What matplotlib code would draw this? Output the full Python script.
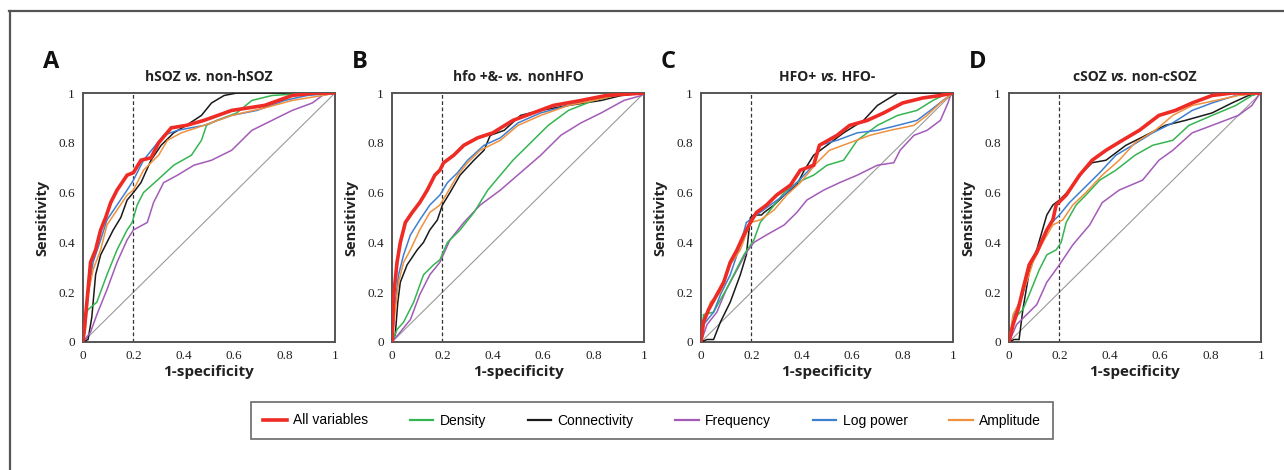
import matplotlib
matplotlib.use("Agg")
import matplotlib.pyplot as plt
from matplotlib.lines import Line2D
from matplotlib.offsetbox import TextArea, HPacker, AnchoredOffsetbox

# ---------------- data ----------------
series_names = ["All variables", "Density", "Connectivity", "Frequency", "Log power", "Amplitude"]
series_colors = ["#ee2b24", "#35b552", "#1a1a1a", "#a35bb8", "#3f7fd0", "#f0913f"]
panel_letters = ["A", "B", "C", "D"]
panel_titles = [("hSOZ ", "vs.", " non-hSOZ"),
                ("hfo +&- ", "vs.", " nonHFO"),
                ("HFO+ ", "vs.", " HFO-"),
                ("cSOZ ", "vs.", " non-cSOZ")]
tick_values = [0, 0.2, 0.4, 0.6, 0.8, 1]
tick_labels = ["0", "0.2", "0.4", "0.6", "0.8", "1"]
cutoff_fpr = 0.2

# Panel A
A_all_x = [0, 0.01, 0.03, 0.05, 0.07, 0.09, 0.11, 0.135, 0.175, 0.2, 0.23, 0.27, 0.3, 0.35, 0.41, 0.48, 0.59, 0.72, 0.83, 0.92, 1]
A_all_y = [0, 0.1, 0.32, 0.37, 0.45, 0.5, 0.56, 0.61, 0.67, 0.68, 0.73, 0.74, 0.8, 0.86, 0.87, 0.89, 0.93, 0.95, 0.99, 1.0, 1]
A_den_x = [0, 0.01, 0.02, 0.055, 0.095, 0.135, 0.175, 0.195, 0.215, 0.24, 0.295, 0.36, 0.43, 0.47, 0.49, 0.53, 0.61, 0.67, 0.75, 0.91, 1]
A_den_y = [0, 0.11, 0.13, 0.16, 0.27, 0.37, 0.45, 0.48, 0.55, 0.6, 0.65, 0.71, 0.75, 0.81, 0.87, 0.89, 0.92, 0.97, 0.99, 1.0, 1]
A_con_x = [0, 0.02, 0.035, 0.05, 0.07, 0.095, 0.12, 0.15, 0.175, 0.2, 0.23, 0.27, 0.31, 0.36, 0.41, 0.47, 0.51, 0.56, 0.61, 1]
A_con_y = [0, 0.01, 0.1, 0.27, 0.35, 0.4, 0.45, 0.5, 0.57, 0.6, 0.64, 0.73, 0.79, 0.84, 0.87, 0.91, 0.96, 0.99, 1.0, 1]
A_fre_x = [0, 0.03, 0.055, 0.095, 0.135, 0.175, 0.2, 0.255, 0.28, 0.32, 0.375, 0.44, 0.51, 0.55, 0.59, 0.63, 0.67, 0.75, 0.83, 0.91, 0.95, 1]
A_fre_y = [0, 0.04, 0.11, 0.21, 0.32, 0.41, 0.45, 0.48, 0.56, 0.64, 0.67, 0.71, 0.73, 0.75, 0.77, 0.81, 0.85, 0.89, 0.93, 0.96, 0.99, 1]
A_log_x = [0, 0.005, 0.015, 0.04, 0.07, 0.095, 0.135, 0.175, 0.2, 0.24, 0.28, 0.32, 0.375, 0.48, 0.59, 0.69, 0.8, 0.89, 1]
A_log_y = [0, 0.05, 0.16, 0.32, 0.41, 0.49, 0.55, 0.61, 0.65, 0.73, 0.78, 0.83, 0.85, 0.87, 0.91, 0.93, 0.97, 0.99, 1]
A_amp_x = [0, 0.01, 0.02, 0.04, 0.07, 0.095, 0.135, 0.175, 0.2, 0.24, 0.3, 0.335, 0.39, 0.48, 0.59, 0.72, 0.83, 0.95, 1]
A_amp_y = [0, 0.05, 0.19, 0.29, 0.37, 0.47, 0.53, 0.59, 0.61, 0.69, 0.75, 0.81, 0.84, 0.87, 0.91, 0.94, 0.97, 0.99, 1]

# Panel B
B_all_x = [0, 0.007, 0.02, 0.033, 0.053, 0.08, 0.11, 0.14, 0.17, 0.19, 0.205, 0.245, 0.285, 0.34, 0.4, 0.48, 0.56, 0.64, 0.75, 0.85, 1]
B_all_y = [0, 0.19, 0.32, 0.4, 0.48, 0.52, 0.56, 0.61, 0.67, 0.69, 0.72, 0.75, 0.79, 0.82, 0.84, 0.89, 0.92, 0.95, 0.97, 0.99, 1]
B_den_x = [0, 0.02, 0.046, 0.086, 0.125, 0.165, 0.19, 0.22, 0.27, 0.325, 0.38, 0.43, 0.48, 0.54, 0.62, 0.7, 0.8, 0.93, 1]
B_den_y = [0, 0.05, 0.08, 0.16, 0.27, 0.31, 0.33, 0.4, 0.45, 0.52, 0.61, 0.67, 0.73, 0.79, 0.87, 0.93, 0.97, 1.0, 1]
B_con_x = [0, 0.013, 0.023, 0.033, 0.06, 0.1, 0.125, 0.15, 0.18, 0.2, 0.23, 0.27, 0.325, 0.365, 0.39, 0.445, 0.51, 0.59, 0.7, 0.83, 0.91, 1]
B_con_y = [0, 0.03, 0.16, 0.24, 0.31, 0.37, 0.4, 0.45, 0.49, 0.55, 0.6, 0.67, 0.73, 0.77, 0.83, 0.85, 0.91, 0.93, 0.95, 0.97, 0.99, 1]
B_fre_x = [0, 0.033, 0.073, 0.11, 0.15, 0.19, 0.23, 0.285, 0.35, 0.43, 0.51, 0.59, 0.67, 0.75, 0.83, 0.92, 0.99, 1]
B_fre_y = [0, 0.04, 0.09, 0.19, 0.27, 0.32, 0.41, 0.48, 0.55, 0.61, 0.68, 0.75, 0.83, 0.88, 0.92, 0.97, 0.99, 1]
B_log_x = [0, 0.013, 0.026, 0.046, 0.073, 0.11, 0.15, 0.19, 0.22, 0.26, 0.3, 0.365, 0.43, 0.5, 0.59, 0.7, 0.8, 0.92, 1]
B_log_y = [0, 0.16, 0.27, 0.35, 0.43, 0.49, 0.55, 0.59, 0.64, 0.68, 0.73, 0.79, 0.82, 0.88, 0.92, 0.95, 0.98, 1.0, 1]
B_amp_x = [0, 0.013, 0.026, 0.046, 0.073, 0.11, 0.15, 0.19, 0.22, 0.26, 0.3, 0.35, 0.43, 0.5, 0.59, 0.7, 0.8, 0.93, 1]
B_amp_y = [0, 0.13, 0.24, 0.32, 0.37, 0.45, 0.52, 0.55, 0.6, 0.67, 0.72, 0.77, 0.81, 0.87, 0.91, 0.95, 0.97, 1.0, 1]

# Panel C
C_all_x = [0, 0.01, 0.03, 0.063, 0.09, 0.116, 0.143, 0.17, 0.196, 0.22, 0.26, 0.3, 0.355, 0.394, 0.447, 0.47, 0.54, 0.59, 0.66, 0.725, 0.8, 0.88, 0.95, 1]
C_all_y = [0, 0.08, 0.13, 0.19, 0.24, 0.32, 0.37, 0.43, 0.48, 0.52, 0.55, 0.59, 0.63, 0.69, 0.71, 0.79, 0.83, 0.87, 0.89, 0.92, 0.96, 0.98, 0.99, 1]
C_den_x = [0, 0.01, 0.05, 0.077, 0.1, 0.13, 0.17, 0.21, 0.235, 0.275, 0.33, 0.38, 0.447, 0.5, 0.566, 0.62, 0.7, 0.78, 0.857, 0.92, 0.96, 1]
C_den_y = [0, 0.11, 0.12, 0.17, 0.21, 0.27, 0.35, 0.41, 0.48, 0.53, 0.6, 0.64, 0.67, 0.71, 0.73, 0.81, 0.87, 0.91, 0.93, 0.97, 0.99, 1]
C_con_x = [0, 0.024, 0.05, 0.077, 0.116, 0.156, 0.18, 0.196, 0.21, 0.24, 0.25, 0.29, 0.33, 0.38, 0.41, 0.447, 0.5, 0.566, 0.645, 0.7, 0.78, 1]
C_con_y = [0, 0.01, 0.01, 0.08, 0.16, 0.27, 0.35, 0.5, 0.51, 0.51, 0.52, 0.55, 0.59, 0.63, 0.69, 0.75, 0.79, 0.84, 0.89, 0.95, 1.0, 1]
C_fre_x = [0, 0.024, 0.063, 0.1, 0.143, 0.18, 0.21, 0.26, 0.33, 0.38, 0.42, 0.487, 0.55, 0.62, 0.7, 0.765, 0.79, 0.845, 0.897, 0.95, 0.98, 0.99, 1]
C_fre_y = [0, 0.07, 0.12, 0.21, 0.29, 0.36, 0.4, 0.43, 0.47, 0.52, 0.57, 0.61, 0.64, 0.67, 0.71, 0.72, 0.77, 0.83, 0.85, 0.89, 0.96, 0.99, 1]
C_log_x = [0, 0.01, 0.05, 0.077, 0.116, 0.156, 0.18, 0.22, 0.275, 0.33, 0.38, 0.447, 0.47, 0.54, 0.62, 0.7, 0.78, 0.857, 0.91, 0.96, 1]
C_log_y = [0, 0.07, 0.12, 0.19, 0.27, 0.39, 0.48, 0.51, 0.55, 0.59, 0.64, 0.71, 0.79, 0.81, 0.84, 0.85, 0.87, 0.89, 0.93, 0.97, 1]
C_amp_x = [0, 0.01, 0.037, 0.077, 0.116, 0.156, 0.196, 0.235, 0.29, 0.34, 0.394, 0.46, 0.51, 0.59, 0.67, 0.75, 0.845, 0.897, 0.95, 1]
C_amp_y = [0, 0.07, 0.16, 0.2, 0.31, 0.37, 0.48, 0.49, 0.53, 0.59, 0.64, 0.72, 0.77, 0.8, 0.83, 0.85, 0.87, 0.91, 0.96, 1]

# Panel D
D_all_x = [0, 0.016, 0.036, 0.055, 0.08, 0.11, 0.15, 0.174, 0.187, 0.227, 0.28, 0.33, 0.385, 0.45, 0.517, 0.595, 0.66, 0.727, 0.806, 0.885, 1]
D_all_y = [0, 0.07, 0.13, 0.21, 0.31, 0.36, 0.45, 0.49, 0.55, 0.59, 0.67, 0.73, 0.77, 0.81, 0.85, 0.91, 0.93, 0.96, 0.99, 1.0, 1]
D_den_x = [0, 0.016, 0.055, 0.08, 0.12, 0.15, 0.187, 0.207, 0.227, 0.266, 0.305, 0.36, 0.424, 0.5, 0.57, 0.65, 0.714, 0.806, 0.9, 0.964, 1]
D_den_y = [0, 0.09, 0.13, 0.19, 0.29, 0.35, 0.37, 0.4, 0.48, 0.55, 0.59, 0.65, 0.69, 0.75, 0.79, 0.81, 0.87, 0.91, 0.95, 0.99, 1]
D_con_x = [0, 0.02, 0.04, 0.055, 0.08, 0.11, 0.15, 0.174, 0.2, 0.24, 0.29, 0.33, 0.385, 0.464, 0.543, 0.62, 0.7, 0.806, 0.885, 0.95, 1]
D_con_y = [0, 0.01, 0.01, 0.13, 0.28, 0.37, 0.51, 0.55, 0.57, 0.61, 0.68, 0.72, 0.73, 0.79, 0.83, 0.87, 0.89, 0.92, 0.96, 0.99, 1]
D_fre_x = [0, 0.03, 0.07, 0.11, 0.15, 0.2, 0.253, 0.32, 0.37, 0.437, 0.53, 0.595, 0.65, 0.727, 0.806, 0.91, 0.964, 0.99, 1]
D_fre_y = [0, 0.07, 0.11, 0.15, 0.24, 0.31, 0.39, 0.47, 0.56, 0.61, 0.65, 0.73, 0.77, 0.84, 0.87, 0.91, 0.95, 0.99, 1]
D_log_x = [0, 0.02, 0.055, 0.08, 0.12, 0.16, 0.2, 0.24, 0.29, 0.36, 0.424, 0.49, 0.57, 0.65, 0.727, 0.806, 0.9, 1]
D_log_y = [0, 0.11, 0.19, 0.31, 0.39, 0.47, 0.51, 0.56, 0.61, 0.68, 0.75, 0.79, 0.84, 0.88, 0.93, 0.96, 0.99, 1]
D_amp_x = [0, 0.016, 0.042, 0.07, 0.095, 0.134, 0.174, 0.213, 0.253, 0.305, 0.37, 0.437, 0.5, 0.58, 0.65, 0.727, 0.82, 0.91, 1]
D_amp_y = [0, 0.11, 0.16, 0.24, 0.32, 0.4, 0.47, 0.49, 0.55, 0.6, 0.67, 0.73, 0.8, 0.85, 0.91, 0.95, 0.97, 0.99, 1]

panels = [
    [(A_all_x, A_all_y), (A_den_x, A_den_y), (A_con_x, A_con_y), (A_fre_x, A_fre_y), (A_log_x, A_log_y), (A_amp_x, A_amp_y)],
    [(B_all_x, B_all_y), (B_den_x, B_den_y), (B_con_x, B_con_y), (B_fre_x, B_fre_y), (B_log_x, B_log_y), (B_amp_x, B_amp_y)],
    [(C_all_x, C_all_y), (C_den_x, C_den_y), (C_con_x, C_con_y), (C_fre_x, C_fre_y), (C_log_x, C_log_y), (C_amp_x, C_amp_y)],
    [(D_all_x, D_all_y), (D_den_x, D_den_y), (D_con_x, D_con_y), (D_fre_x, D_fre_y), (D_log_x, D_log_y), (D_amp_x, D_amp_y)],
]

# ---------------- figure ----------------
W, H = 1284, 470
fig = plt.figure(figsize=(W / 100, H / 100), dpi=100)
fig.patch.set_facecolor("white")

sans_bold = ["Open Sans", "DejaVu Sans"]
serif = ["Liberation Serif", "DejaVu Serif"]
narrow = ["Liberation Sans Narrow", "Liberation Sans", "DejaVu Sans"]

axes_left_px = [83, 392, 701, 1009]
ax_w_px = 252
ax_top_px, ax_bot_px = 93, 342

# outer frame lines (top and left)
fig.add_artist(Line2D([9 / W, 1.0], [1 - 10.5 / H, 1 - 10.5 / H], color="#555555", lw=1.6))
fig.add_artist(Line2D([9.5 / W, 9.5 / W], [0, 1 - 10.5 / H], color="#555555", lw=1.6))

# plotting order: draw red last so it's on top
draw_order = [2, 3, 1, 4, 5, 0]

for p in range(4):
    ax = fig.add_axes([axes_left_px[p] / W, 1 - ax_bot_px / H, ax_w_px / W, (ax_bot_px - ax_top_px) / H])
    ax.set_xlim(0, 1)
    ax.set_ylim(0, 1)
    ax.plot([0, 1], [0, 1], color="#9a9a9a", lw=0.8, zorder=1)
    ax.axvline(cutoff_fpr, color="#333333", lw=0.9, ls=(0, (3, 2)), zorder=1)
    for i in draw_order:
        xs, ys = panels[p][i]
        lw = 2.6 if i == 0 else 1.1
        ax.plot(xs, ys, color=series_colors[i], lw=lw, zorder=5 if i == 0 else 3,
                solid_joinstyle="miter")
    for s in ax.spines.values():
        s.set_color("#555555")
        s.set_linewidth(1.4)
    ax.set_xticks(tick_values)
    ax.set_xticklabels(tick_labels)
    ax.set_yticks(tick_values)
    ax.set_yticklabels(tick_labels)
    ax.tick_params(length=0, pad=6, labelsize=9.5, colors="#222222")
    for t in ax.get_xticklabels() + ax.get_yticklabels():
        t.set_family(serif)
    ax.set_xlabel("1-specificity", fontsize=11, fontweight="bold", family=sans_bold, labelpad=2, color="#222222")
    ax.set_ylabel("Sensitivity", fontsize=10.5, fontweight="bold", family=sans_bold, labelpad=6, color="#222222")

    # title with italic "vs."
    a, b, c = panel_titles[p]
    tprops = dict(fontsize=10, fontweight="bold", family=sans_bold, color="#222222")
    ta = TextArea(a, textprops=tprops)
    tb = TextArea(b, textprops=dict(tprops, style="italic"))
    tc = TextArea(c, textprops=tprops)
    pack = HPacker(children=[ta, tb, tc], align="baseline", pad=0, sep=0)
    box = AnchoredOffsetbox(loc="lower center", child=pack, pad=0, borderpad=0, frameon=False,
                            bbox_to_anchor=(0.5, 1.035), bbox_transform=ax.transAxes)
    ax.add_artist(box)

    # panel letter
    fig.text((axes_left_px[p] - 40) / W, 1 - 62 / H, panel_letters[p], fontsize=17,
             fontweight="bold", family=sans_bold, ha="left", va="center", color="#111111")

# legend
handles = [Line2D([0], [0], color=series_colors[i], lw=2.6 if i == 0 else 1.6) for i in range(6)]
leg = fig.legend(handles, series_names, loc="center", ncol=6,
                 bbox_to_anchor=(652 / W, 1 - 420.5 / H), frameon=True, fancybox=False,
                 handlelength=1.7, handletextpad=0.45, columnspacing=3.0,
                 prop={"family": narrow, "size": 10}, borderpad=0.85, borderaxespad=0)
leg.get_frame().set_edgecolor("#444444")
leg.get_frame().set_linewidth(1.2)

fig.savefig("out.png", dpi=100, facecolor="white")
